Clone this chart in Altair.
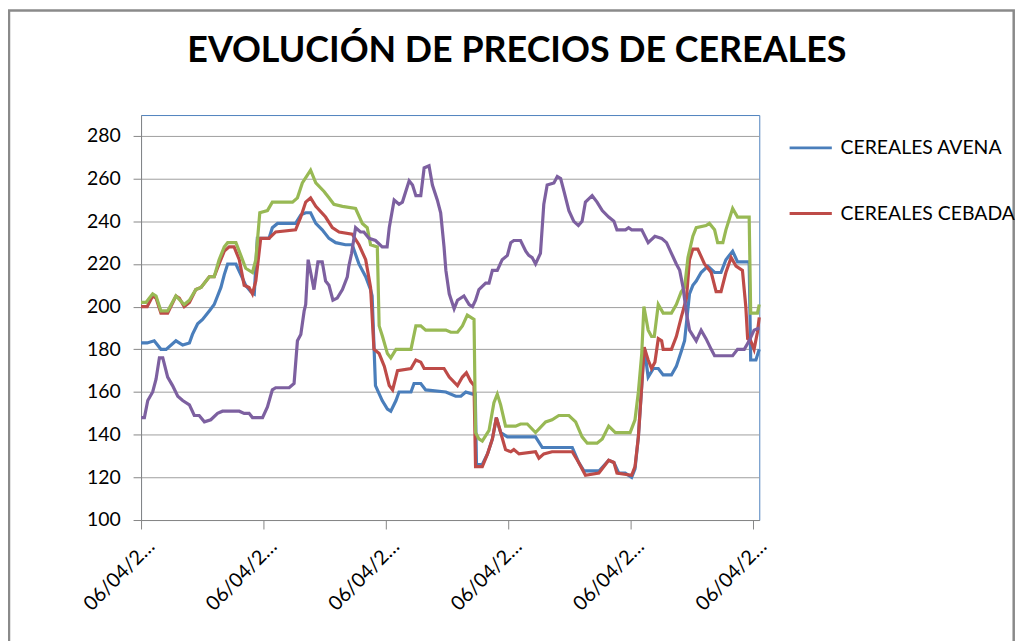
import altair as alt
import pandas as pd

SERIES = ["CEREALES AVENA", "CEREALES CEBADA", "CEREALES TRIGO", "CEREALES MAÍZ"]
COLORS = ["#4A7EBB", "#BE4B48", "#98B954", "#7D60A0"]
X_TICKS = [0, 40, 80, 120, 160, 200]
X_LABEL = "06/04/2…"
Y_TICKS = [100, 120, 140, 160, 180, 200, 220, 240, 260, 280]

AVENA_X = [0, 2, 4.3, 6.5, 8.2, 11.4, 13.6, 15.8, 16.8, 18.5,
           20.1, 22.3, 23.9, 25, 26.1, 27.2, 28.3, 31, 32.6, 34.2,
           35.9, 37, 38, 41.8, 42.9, 44.6, 50.5, 52.2, 53.8, 55.4,
           57.1, 59.2, 61.4, 63.6, 66.8, 69, 71.2, 73.4, 75, 75.5,
           76.6, 78.8, 80.5, 81.6, 83.3, 84.3, 88.2, 89.2, 91.4, 93,
           99.6, 102.8, 104.5, 106.1, 108.3, 109.2, 109.6, 111.5, 113.2, 114.8,
           116.1, 117.5, 119.7, 124, 128.9, 131.1, 132.2, 140.9, 143, 144.7,
           149.6, 152.8, 154.5, 156.1, 158.2, 160.3, 161.4, 162.5, 163.6, 164.4,
           165.7, 167.4, 169, 170.6, 173.3, 174.9, 176.5, 177.6, 179.2, 180.3,
           181.4, 183, 185.2, 187.4, 189.5, 191.1, 193.3, 194.9, 198.7, 199.2,
           200.9, 202]
AVENA_Y = [183, 183, 184, 180, 180, 184, 182, 183, 187, 192,
           194, 198, 201, 205, 209, 215, 220, 220, 215, 210,
           207, 206, 232, 232, 237, 239, 239, 243, 244, 244,
           239, 236, 232, 230, 229, 229, 220, 214, 208, 205,
           163, 156, 152, 151, 156, 160, 160, 164, 164, 161,
           160, 158, 158, 160, 159, 159, 126, 126, 131, 138,
           148, 141, 139, 139, 139, 134, 134, 134, 127, 123,
           123, 128, 127, 122, 122, 120, 124, 139, 163, 181,
           167, 171, 171, 168, 168, 172, 179, 184, 206, 210,
           212, 216, 219, 216, 216, 222, 226, 221, 221, 175,
           175, 180]

CEBADA_X = [0, 2, 3.8, 4.9, 6.5, 8.7, 11.4, 12.5, 14.1, 15.8,
            17.9, 19.6, 22.3, 23.9, 25.5, 27.2, 28.8, 30.4, 32.1, 33.7,
            35.3, 36.4, 37.5, 39.1, 41.8, 44, 50.5, 52.2, 53.8, 55.4,
            57.1, 60.3, 62.5, 64.7, 69, 71.2, 73.4, 75, 76.1, 77.8,
            79.5, 81.1, 82.2, 83.8, 88.2, 89.8, 91.4, 92.5, 99, 100.7,
            103.4, 105, 106.3, 107.7, 108.8, 109.3, 111.5, 113.2, 114.8, 116.1,
            117.5, 119.1, 120.8, 121.8, 123.5, 128.9, 130, 131.6, 134.3, 140.9,
            143, 145.2, 149.6, 152.8, 154.5, 155.5, 160.3, 161.4, 162.5, 163.6,
            164.4, 165.7, 166.8, 167.9, 169, 170.1, 170.6, 173.3, 174.9, 176.5,
            178.2, 179.2, 180.3, 181.9, 184.1, 186.3, 187.9, 189.5, 191.1, 192.8,
            194.4, 196.5, 197.6, 198.2, 199.2, 200.3, 201.4, 202]
CEBADA_Y = [200, 200, 205, 204, 197, 197, 205, 204, 200, 202,
            208, 209, 214, 214, 220, 226, 228, 228, 222, 210,
            209, 206, 212, 232, 232, 235, 236, 242, 249, 251,
            247, 242, 237, 235, 234, 229, 222, 209, 180, 178,
            172, 163, 161, 170, 171, 175, 174, 171, 171, 167,
            163, 167, 169, 165, 163, 125, 125, 131, 138, 148,
            141, 133, 132, 133, 131, 132, 129, 131, 132, 132,
            127, 121, 122, 128, 127, 122, 121, 125, 139, 163,
            181, 175, 171, 174, 185, 184, 180, 180, 186, 195,
            204, 222, 227, 227, 220, 216, 207, 207, 216, 223,
            219, 217, 200, 185, 184, 180, 188, 195]

TRIGO_X = [0, 1.6, 3.8, 4.9, 6.5, 8.7, 11.4, 14.1, 15.8, 17.9,
           19.6, 22.3, 23.9, 25.5, 27.2, 28.3, 31, 32.6, 34.2, 36.4,
           37.5, 38.8, 41.3, 42.9, 49.5, 51.1, 52.7, 55.4, 57.1, 59.8,
           61.4, 63, 65.8, 70.1, 72.3, 73.9, 75, 77.2, 77.8, 78.9,
           80.5, 81.6, 83.3, 88.2, 89.8, 91.4, 93, 99.6, 101.2, 103.4,
           105, 106.6, 108.8, 109.3, 110.4, 111.5, 113.7, 115.3, 116.4, 117.5,
           119.1, 122.4, 124, 126.2, 128.9, 132.2, 134.3, 136.5, 139.8, 142,
           144.1, 145.8, 149, 150.7, 152.8, 155, 159.8, 161.4, 162.5, 163.6,
           164.3, 165.7, 166.8, 167.7, 169, 170.6, 173.3, 174.9, 176.5, 177.6,
           178.7, 180.3, 181.4, 184.6, 185.7, 187.4, 188.4, 190.1, 191.1, 193.3,
           194.9, 198.7, 199.2, 201.4, 202]
TRIGO_Y = [202, 202, 206, 205, 198, 198, 205, 201, 203, 208,
           209, 214, 214, 222, 228, 230, 230, 224, 218, 216,
           222, 244, 245, 249, 249, 251, 258, 264, 258, 254,
           251, 248, 247, 246, 239, 237, 229, 228, 191, 186,
           178, 176, 180, 180, 191, 191, 189, 189, 188, 188,
           191, 196, 194, 141, 138, 137, 142, 155, 159, 154,
           144, 144, 145, 145, 141, 146, 147, 149, 149, 146,
           139, 136, 136, 138, 144, 141, 141, 147, 160, 178,
           200, 189, 186, 186, 201, 197, 197, 201, 207, 209,
           223, 233, 237, 238, 239, 236, 230, 230, 236, 246,
           242, 242, 197, 197, 201]

MAIZ_X = [0, 1.1, 2.2, 3.8, 4.9, 6, 7.1, 8.7, 10.3, 12,
          13.6, 15.8, 17.4, 19, 20.7, 22.8, 25, 26.6, 32.1, 33.7,
          35.3, 36.4, 39.7, 41.3, 42.9, 44, 48.4, 50, 51.1, 52.2,
          53.3, 53.8, 54.6, 55.7, 56.5, 57.8, 59.2, 60.3, 61.4, 62.7,
          64.1, 65.8, 67.4, 67.9, 68.8, 70.1, 71.7, 72.8, 74.5, 76.6,
          78.8, 80.4, 81.1, 82.7, 84.3, 85.4, 87.6, 88.7, 89.8, 91.4,
          92.5, 94.1, 95.2, 96.8, 97.9, 99, 99.6, 100.7, 102.3, 103.4,
          105.5, 107.2, 108.3, 109.3, 110.4, 112.6, 113.7, 114.8, 116.4, 118,
          119.7, 120.8, 121.8, 124, 125.7, 126.7, 127.8, 128.9, 130.5, 131.6,
          132.7, 134.9, 136, 137.1, 138.2, 139.8, 141.4, 142.9, 144.1, 145.2,
          147.4, 149, 150.7, 152.8, 154.5, 155.5, 158.3, 159.3, 160.3, 163.6,
          165.7, 167.9, 170.1, 171.7, 173.3, 174.9, 176, 177.1, 178.2, 179.2,
          181.4, 183, 184.6, 186.3, 187.4, 193.3, 194.9, 197.1, 198.7, 200.3,
          202]
MAIZ_Y = [148, 148, 156, 160, 166, 176, 176, 167, 163, 158,
          156, 154, 149, 149, 146, 147, 150, 151, 151, 150,
          150, 148, 148, 153, 161, 162, 162, 164, 184, 187,
          198, 201, 222, 214, 208, 221, 221, 212, 210, 203,
          204, 208, 214, 219, 225, 237, 235, 235, 232, 231,
          228, 228, 237, 250, 248, 249, 259, 257, 252, 252,
          265, 266, 257, 250, 244, 228, 217, 206, 199, 203,
          205, 201, 200, 203, 208, 211, 211, 217, 217, 222,
          224, 230, 231, 231, 226, 224, 223, 220, 225, 248,
          257, 258, 261, 260, 254, 245, 240, 238, 240, 249,
          252, 249, 245, 242, 240, 236, 236, 237, 236, 236,
          230, 233, 232, 230, 225, 220, 217, 209, 197, 189,
          184, 189, 185, 180, 177, 177, 180, 180, 184, 189,
          190]

rows = []
for name, xs, ys in zip(SERIES,
                        [AVENA_X, CEBADA_X, TRIGO_X, MAIZ_X],
                        [AVENA_Y, CEBADA_Y, TRIGO_Y, MAIZ_Y]):
    for xv, yv in zip(xs, ys):
        rows.append({"serie": name, "dia": xv, "precio": yv})
df = pd.DataFrame(rows)

FONT = "Lato"

x_enc = alt.X(
    "dia:Q",
    scale=alt.Scale(domain=[0, 202], nice=False, zero=False),
    axis=alt.Axis(values=X_TICKS, labelExpr="'" + X_LABEL + "'", title=None,
                  grid=False, labelAngle=315, labelAlign="right",
                  labelBaseline="middle", labelPadding=14, labelOffset=10,
                  tickSize=9, labelOverlap=False, labelFontSize=20),
)
y_enc = alt.Y(
    "precio:Q",
    scale=alt.Scale(domain=[100, 289.8], nice=False, zero=False),
    axis=alt.Axis(values=Y_TICKS, title=None, grid=True, tickSize=8,
                  labelPadding=13, labelFontSize=19.5),
)
color_enc = alt.Color(
    "serie:N",
    scale=alt.Scale(domain=SERIES, range=COLORS),
    legend=alt.Legend(values=SERIES[:2], title=None, orient="none",
                      legendX=650, legendY=10, symbolType="stroke",
                      symbolSize=1800, symbolStrokeWidth=3,
                      labelFont=FONT, labelFontSize=19.5, labelColor="#000",
                      labelLimit=400, rowPadding=33, labelOffset=7),
)

frame = alt.Chart(alt.Data(values=[{"f": 1}])).mark_rect(
    filled=False, stroke="#8A8A8A", strokeWidth=2.5
).encode(
    x=alt.value(-132.7), x2=alt.value(877), y=alt.value(-105), y2=alt.value(600)
)

lines = [
    alt.Chart(df).transform_filter(alt.datum.serie == name)
    .mark_line(strokeWidth=3.2)
    .encode(x=x_enc, y=y_enc, color=color_enc)
    for name in SERIES
]

chart = alt.layer(*lines, frame).properties(
    width=621.3,
    height=407,
    padding={"left": 133.7, "top": 106, "right": 257, "bottom": 120},
    autosize=alt.AutoSizeParams(type="none"),
    title=alt.TitleParams(
        text="EVOLUCIÓN DE PRECIOS DE CEREALES", font=FONT, fontSize=36,
        fontWeight="bold", color="#000", anchor="middle", frame="group",
        dx=67, offset=-89, baseline="alphabetic"),
).configure_view(
    stroke="#4F81BD", strokeWidth=1
).configure_axis(
    domainColor="#868686", tickColor="#868686", gridColor="#9E9E9E",
    labelFont=FONT, labelFontSize=19.5, labelColor="#000",
)

chart.save("out.html", embed_options={"renderer": "svg", "actions": False})
